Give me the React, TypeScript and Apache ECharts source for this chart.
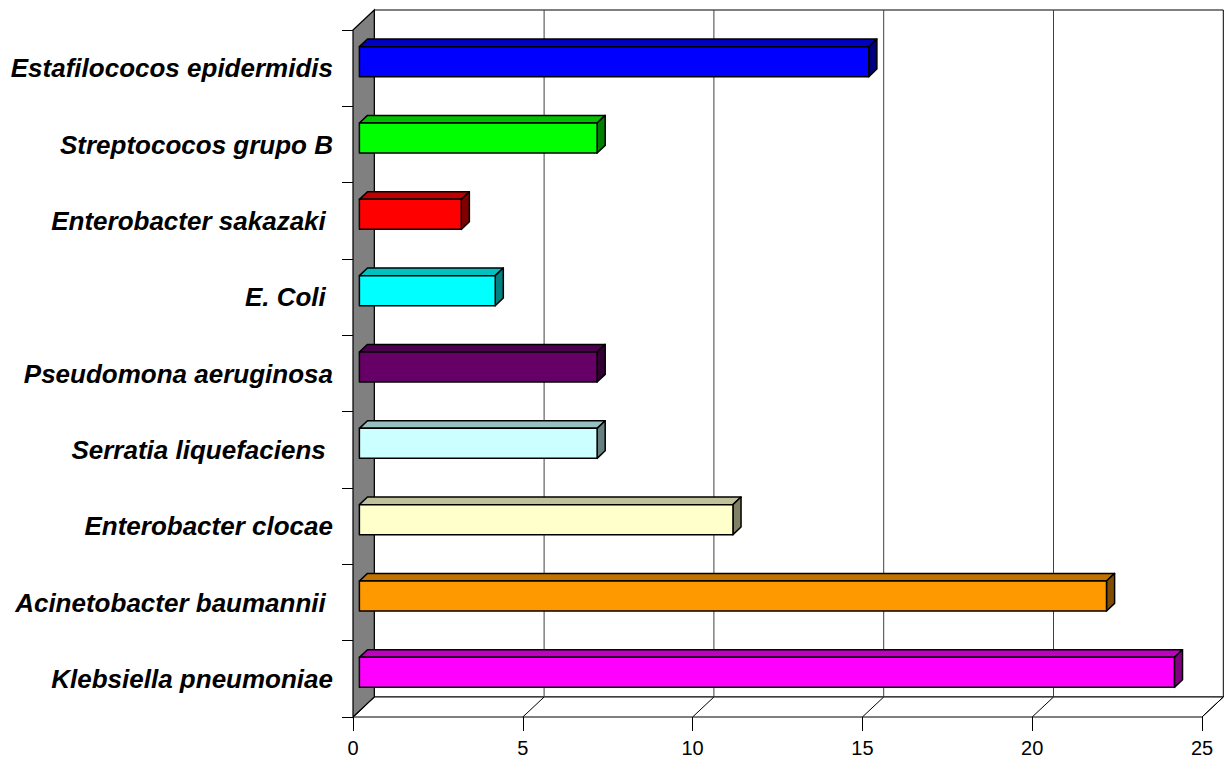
import React, { useEffect, useRef } from "react";
import * as echarts from "echarts";

// Categories, bottom to top (ECharts draws the first category at the bottom)
const categories = [
  "Klebsiella pneumoniae",
  "Acinetobacter baumannii ",
  "Enterobacter clocae",
  "Serratia liquefaciens ",
  "Pseudomona aeruginosa",
  "E. Coli ",
  "Enterobacter sakazaki ",
  "Streptococos grupo B",
  "Estafilococos epidermidis",
];
const values = [24, 22, 11, 7, 7, 4, 3, 7, 15];
const xTicks = [0, 5, 10, 15, 20, 25];

// Styles
const frontColors = ["#FF00FF", "#FF9900", "#FFFFCC", "#CCFFFF", "#660066", "#00FFFF", "#FF0000", "#00FF00", "#0000FF"];
const topColors = ["#C000C0", "#C07300", "#C0C099", "#99C0C0", "#4D004D", "#00C0C0", "#C00000", "#00C000", "#0000C0"];
const sideColors = ["#800080", "#804D00", "#808066", "#668080", "#330033", "#008080", "#800000", "#008000", "#000080"];

const FONT = "'Liberation Sans', Arial, sans-serif";
// 3D projection: full depth offset of the back wall
const DX = 21.3;
const DY = -20;
// bar depth (front and back faces)
const BAR_D0 = 0.3;
const BAR_D1 = 0.68;

export default function App() {
  const ref = useRef<HTMLDivElement>(null);

  useEffect(() => {
    if (!ref.current) return;
    const chart = echarts.init(ref.current, null, { renderer: "svg" });

    const wallsRender = (params: any, api: any) => {
      const cs = params.coordSys;
      const left = cs.x;
      const right = cs.x + cs.width;
      const top = cs.y;
      const bottom = cs.y + cs.height;
      const children: any[] = [];
      // back wall
      children.push({
        type: "polygon",
        shape: {
          points: [
            [left + DX, top + DY],
            [right + DX, top + DY],
            [right + DX, bottom + DY],
            [left + DX, bottom + DY],
          ],
        },
        style: { fill: "#FFFFFF", stroke: "#000", lineWidth: 1 },
      });
      // floor
      children.push({
        type: "polygon",
        shape: {
          points: [
            [left, bottom],
            [right, bottom],
            [right + DX, bottom + DY],
            [left + DX, bottom + DY],
          ],
        },
        style: { fill: "#FFFFFF", stroke: "#000", lineWidth: 1 },
      });
      // gridlines on back wall and floor
      xTicks.forEach((t) => {
        const p = api.coord([t, 0]);
        const x = p[0];
        if (t !== xTicks[0] && t !== xTicks[xTicks.length - 1]) {
          children.push({
            type: "line",
            shape: { x1: x + DX, y1: top + DY, x2: x + DX, y2: bottom + DY },
            style: { stroke: "#404040", lineWidth: 1 },
          });
        }
        children.push({
          type: "line",
          shape: { x1: x, y1: bottom, x2: x + DX, y2: bottom + DY },
          style: { stroke: "#000", lineWidth: 1 },
        });
      });
      // side wall
      children.push({
        type: "polygon",
        shape: {
          points: [
            [left, top],
            [left + DX, top + DY],
            [left + DX, bottom + DY],
            [left, bottom],
          ],
        },
        style: { fill: "#808080", stroke: "#000", lineWidth: 1.2 },
      });
      return { type: "group", children };
    };

    const barRender = (params: any, api: any) => {
      const i = params.dataIndex;
      const v = api.value(0);
      const c = api.value(1);
      const p0 = api.coord([0, c]);
      const p1 = api.coord([v, c]);
      const band = api.size([0, 1])[1];
      const h = band * 0.393;
      const fx = DX * BAR_D0;
      const fy = DY * BAR_D0 - 0.5;
      const bx = DX * (BAR_D1 - BAR_D0);
      const by = DY * (BAR_D1 - BAR_D0);
      const x0 = p0[0] + fx;
      const x1 = p1[0] + fx;
      const yc = p0[1] + fy;
      const yt = yc - h / 2;
      const yb = yc + h / 2;
      const stroke = { stroke: "#000", lineWidth: 1.5, lineJoin: "round" };
      return {
        type: "group",
        children: [
          {
            type: "polygon",
            shape: { points: [[x0, yt], [x0 + bx, yt + by], [x1 + bx, yt + by], [x1, yt]] },
            style: { fill: topColors[i], ...stroke },
          },
          {
            type: "polygon",
            shape: { points: [[x1, yt], [x1 + bx, yt + by], [x1 + bx, yb + by], [x1, yb]] },
            style: { fill: sideColors[i], ...stroke },
          },
          {
            type: "rect",
            shape: { x: x0, y: yt, width: x1 - x0, height: h },
            style: { fill: frontColors[i], ...stroke },
          },
        ],
      };
    };

    chart.setOption({
      animation: false,
      backgroundColor: "#FFFFFF",
      grid: { left: 353, right: 23, top: 30, bottom: 44 },
      xAxis: {
        type: "value",
        min: 0,
        max: 25,
        interval: 5,
        axisLine: { show: false },
        axisTick: { show: true, length: 14, lineStyle: { color: "#000", width: 1 } },
        splitLine: { show: false },
        axisLabel: { color: "#000", fontSize: 20, fontFamily: FONT, margin: 21 },
      },
      yAxis: {
        type: "category",
        data: categories,
        axisLine: { show: true, lineStyle: { color: "#000", width: 1 } },
        axisTick: { show: true, length: 11, lineStyle: { color: "#000", width: 1 } },
        axisLabel: {
          color: "#000",
          fontSize: 26,
          fontWeight: "bold",
          fontStyle: "italic",
          fontFamily: FONT,
          margin: 20,
          padding: [0, 0, 13, 0],
        },
        splitLine: { show: false },
      },
      series: [
        {
          type: "custom",
          z: 1,
          silent: true,
          renderItem: wallsRender,
          data: [[0, 0]],
          encode: { x: 0, y: 1 },
        },
        {
          type: "custom",
          z: 2,
          renderItem: barRender,
          data: values.map((v, i) => [v, i]),
          encode: { x: 0, y: 1 },
        },
      ],
    });

    return () => chart.dispose();
  }, []);

  return (
    <div
      ref={ref}
      style={{ position: "fixed", left: 0, top: 0, width: 1225, height: 761, background: "#fff" }}
    />
  );
}
